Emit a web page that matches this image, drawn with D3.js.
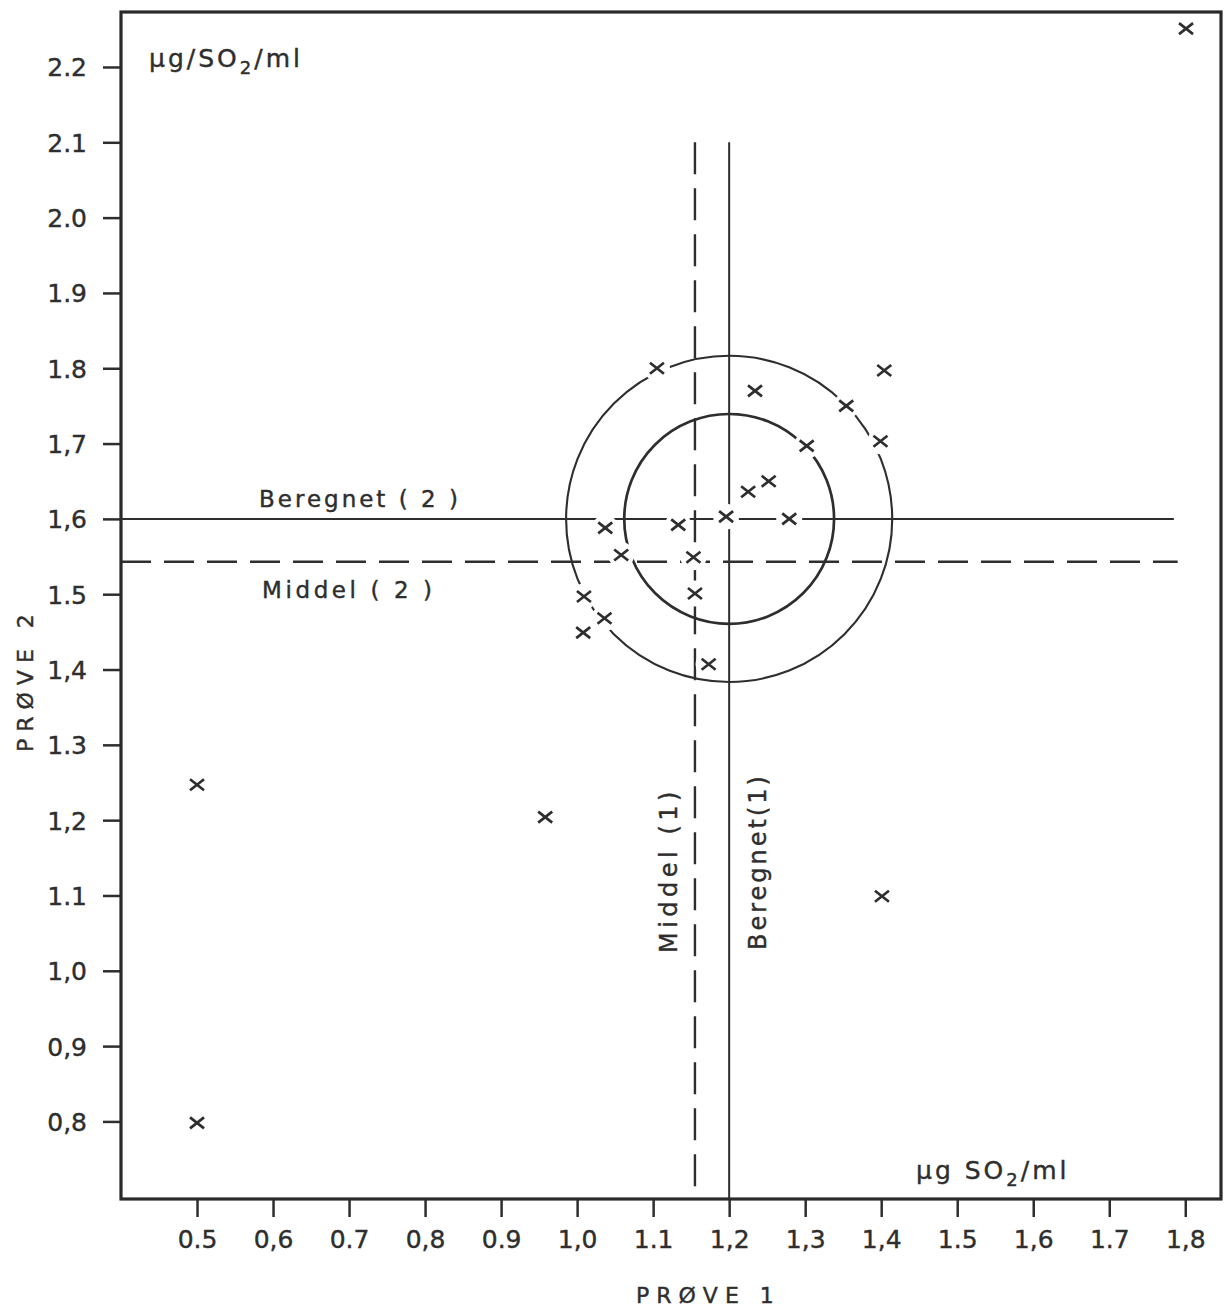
<!DOCTYPE html>
<html lang="no">
<head>
	<meta charset="utf-8">
	<script src="https://cdn.jsdelivr.net/npm/d3@7"></script>
	<style>
		body{ margin:0; background:#fff; }
		text{ font-family:"DejaVu Sans", sans-serif; fill:#2e2e2e; stroke:#2e2e2e; stroke-width:0.4px; }
		.tick line{ stroke:#2e2e2e; stroke-width:2.5px; }
		.tick text{ font-size:25px; }
	</style>
</head>
<body>
	<script>
		// data (Prøve 1 vs Prøve 2, µg SO2/ml)
		var prove1 = [1.105, 1.234, 1.404, 1.354, 1.399, 1.302, 1.252, 1.225, 1.196, 1.279,
			1.037, 1.133, 1.058, 1.153, 1.155, 1.009, 1.036, 1.008, 1.173,
			1.801, 0.5, 0.5, 0.958, 1.401];
		var prove2 = [1.800, 1.770, 1.797, 1.750, 1.703, 1.697, 1.650, 1.636, 1.603, 1.600,
			1.588, 1.592, 1.552, 1.549, 1.501, 1.497, 1.468, 1.449, 1.407,
			2.251, 1.247, 0.798, 1.204, 1.099];

		var xTicks = [0.5, 0.6, 0.7, 0.8, 0.9, 1.0, 1.1, 1.2, 1.3, 1.4, 1.5, 1.6, 1.7, 1.8];
		var xTickLabels = ["0.5","0,6","0.7","0,8","0.9","1,0","1.1","1,2","1,3","1,4","1.5","1,6","1.7","1,8"];
		var yTicks = [0.8, 0.9, 1.0, 1.1, 1.2, 1.3, 1.4, 1.5, 1.6, 1.7, 1.8, 1.9, 2.0, 2.1, 2.2];
		var yTickLabels = ["0,8","0,9","1,0","1.1","1,2","1.3","1,4","1.5","1,6","1,7","1.8","1.9","2.0","2.1","2.2"];

		// reference lines: beregnet (solid) and middel (dashed)
		var beregnet = [1.2, 1.6];
		var middel = [1.155, 1.543];
		var vLineTop = 2.1;
		var hLineEnd = [1.785, 1.79];
		var ringRadii = [0.138, 0.2145];

		var width = 1224, height = 1313;
		var plotL = 121, plotR = 1221, plotT = 12, plotB = 1199;

		var x = d3.scaleLinear().domain([0.4, 1.847]).range([plotL, plotR]);
		var y = d3.scaleLinear().domain([0.697, 2.273]).range([plotB, plotT]);

		var svg = d3.select("body").append("svg")
			.attr("width", width)
			.attr("height", height);

		var ink = "#2e2e2e";

		// axes
		var xAxis = d3.axisBottom(x)
			.tickValues(xTicks)
			.tickFormat(function(d, i){ return xTickLabels[i]; })
			.tickSize(18).tickSizeOuter(0);
		var gx = svg.append("g").attr("transform", "translate(0," + plotB + ")").call(xAxis);
		gx.select(".domain").remove();
		gx.selectAll(".tick text").attr("y", 49).attr("dy", 0);

		var yAxis = d3.axisLeft(y)
			.tickValues(yTicks)
			.tickFormat(function(d, i){ return yTickLabels[i]; })
			.tickSize(18).tickSizeOuter(0);
		var gy = svg.append("g").attr("transform", "translate(" + plotL + ",0)").call(yAxis);
		gy.select(".domain").remove();
		gy.selectAll(".tick text").attr("x", -34).attr("dy", "0.36em");

		var plot = svg.append("g");

		// rings round the beregnet point
		plot.selectAll("circle.ring")
			.data(ringRadii).enter()
			.append("circle")
			.attr("class", "ring")
			.attr("cx", x(beregnet[0]))
			.attr("cy", y(beregnet[1]))
			.attr("r", function(d){ return x(beregnet[0] + d) - x(beregnet[0]); })
			.attr("fill", "none")
			.attr("stroke", ink)
			.attr("stroke-width", function(d, i){ return i == 0 ? 2.7 : 2.1; });

		// vertical lines
		plot.append("line")
			.attr("x1", x(beregnet[0])).attr("x2", x(beregnet[0]))
			.attr("y1", y(vLineTop)).attr("y2", plotB)
			.attr("stroke", ink).attr("stroke-width", 2);
		plot.append("line")
			.attr("x1", x(middel[0])).attr("x2", x(middel[0]))
			.attr("y1", y(vLineTop)).attr("y2", plotB)
			.attr("stroke", ink).attr("stroke-width", 2.4)
			.attr("stroke-dasharray", "32,14");

		// horizontal lines
		plot.append("line")
			.attr("x1", plotL).attr("x2", x(hLineEnd[0]))
			.attr("y1", y(beregnet[1])).attr("y2", y(beregnet[1]))
			.attr("stroke", ink).attr("stroke-width", 2);
		plot.append("line")
			.attr("x1", plotL).attr("x2", x(hLineEnd[1]))
			.attr("y1", y(middel[1])).attr("y2", y(middel[1]))
			.attr("stroke", ink).attr("stroke-width", 2.4)
			.attr("stroke-dasharray", "30,13");

		var points = prove1.map(function(d, i){ return [d, prove2[i]]; });

		// white gaps where crosses sit on lines
		plot.selectAll("circle.gap")
			.data(points).enter()
			.append("circle")
			.attr("class", "gap")
			.attr("cx", function(d){ return x(d[0]); })
			.attr("cy", function(d){ return y(d[1]); })
			.attr("r", 13)
			.attr("fill", "#fff");

		// crosses
		plot.selectAll("path.mark")
			.data(points).enter()
			.append("path")
			.attr("class", "mark")
			.attr("transform", function(d){ return "translate(" + x(d[0]) + "," + y(d[1]) + ")"; })
			.attr("d", "M-7,-5.5L7,5.5M-7,5.5L7,-5.5")
			.attr("stroke", ink)
			.attr("stroke-width", 2.7)
			.attr("fill", "none");

		// frame
		svg.append("rect")
			.attr("x", plotL).attr("y", plotT)
			.attr("width", plotR - plotL).attr("height", plotB - plotT)
			.attr("fill", "none")
			.attr("stroke", "#2a2a2a")
			.attr("stroke-width", 3.2);

		// labels
		function unitLabel(tx, ty, parts){
			var t = svg.append("text").attr("x", tx).attr("y", ty)
				.style("font-size", "25px").style("letter-spacing", "3px");
			parts.forEach(function(p){
				var s = t.append("tspan").text(p[0]);
				if (p[1]) s.style("font-size", "18px").attr("dy", 7);
				if (p[2]) s.attr("dy", -7);
			});
		}
		unitLabel(149, 67, [["µg/SO"], ["2", true], ["/ml", false, true]]);
		unitLabel(916, 1179, [["µg SO"], ["2", true], ["/ml", false, true]]);

		svg.append("text").attr("x", 259).attr("y", 507)
			.style("font-size", "23px").style("letter-spacing", "3px")
			.text("Beregnet ( 2 )");
		svg.append("text").attr("x", 262).attr("y", 598)
			.style("font-size", "23px").style("letter-spacing", "3.6px")
			.text("Middel ( 2 )");

		svg.append("text")
			.attr("transform", "translate(677,953) rotate(-90)")
			.style("font-size", "24px").style("letter-spacing", "4.5px")
			.text("Middel (1)");
		svg.append("text")
			.attr("transform", "translate(766,950) rotate(-90)")
			.style("font-size", "24px").style("letter-spacing", "3px")
			.text("Beregnet(1)");

		svg.append("text").attr("x", 636).attr("y", 1303)
			.style("font-size", "22px").style("letter-spacing", "7px")
			.text("PRØVE 1");
		svg.append("text")
			.attr("transform", "translate(33,752) rotate(-90)")
			.style("font-size", "22px").style("letter-spacing", "7px")
			.text("PRØVE 2");
	</script>
</body>
</html>
